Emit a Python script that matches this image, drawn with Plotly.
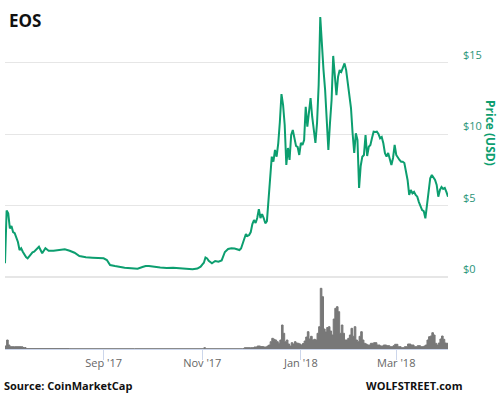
import pandas as pd
import plotly.graph_objects as go

# ---- data ----
start_date = "2017-07-02"
end_date = "2018-04-02"

price_day = [0, 1, 2, 3, 4, 5, 6, 7, 8, 9, 10, 11, 12, 13, 14, 15, 16, 17, 18, 20, 21, 22, 23, 25, 27,
             30, 34, 37, 40, 43, 46, 50, 54, 58, 61, 63, 64, 65, 68, 71, 74, 78, 82, 85, 87, 89, 92,
             96, 100, 104, 108, 112, 116, 119, 121, 122, 123, 124, 125, 126, 127, 128, 130, 132, 134,
             135, 136, 138, 140, 142, 144, 145, 146, 147, 148, 149, 150, 151, 152, 153, 154, 155, 156,
             157, 158, 159, 160, 161, 162, 163, 164, 165, 166, 167, 168, 169, 170, 171, 172, 173, 174,
             175, 176, 177, 178, 179, 180, 181, 182, 183, 184, 185, 186, 187, 188, 189, 190, 191, 192,
             193, 194, 195, 196, 197, 198, 199, 200, 201, 202, 203, 204, 205, 206, 207, 208, 209, 210,
             211, 212, 213, 214, 215, 216, 217, 218, 219, 220, 221, 222, 223, 224, 225, 226, 227, 228,
             229, 230, 231, 232, 233, 234, 235, 236, 237, 238, 239, 240, 241, 242, 243, 244, 245, 246,
             247, 248, 249, 250, 251, 252, 253, 254, 255, 256, 257, 258, 259, 260, 261, 262, 263, 264,
             265, 266, 267, 268, 269, 270, 271, 272, 273, 274]
price_usd = [0.94, 4.63, 4.44, 3.39, 3.55, 3.13, 3.05, 2.69, 2.43, 1.87, 1.99, 1.75, 1.52, 1.38, 1.29,
             1.45, 1.59, 1.70, 1.75, 1.98, 2.10, 1.87, 1.64, 1.99, 1.82,
             1.82, 1.87, 1.92, 1.82, 1.68, 1.45, 1.36, 1.33, 1.29, 1.29, 1.17, 0.94, 0.82, 0.75, 0.68,
             0.63, 0.59, 0.56, 0.68, 0.75, 0.75, 0.68,
             0.64, 0.61, 0.63, 0.59, 0.55, 0.52, 0.57, 0.70, 0.85, 0.98, 1.35, 1.28, 1.12, 1.03, 0.94,
             1.10, 1.05, 1.14,
             1.52, 1.73, 1.94, 1.99, 1.98, 1.94, 1.87, 1.98, 2.36, 2.57, 2.99, 2.85, 2.92, 3.13, 3.69,
             3.97, 3.76, 4.11,
             4.74, 4.11, 4.39, 4.11, 3.74, 3.90, 5.45, 7.06, 8.41, 8.06, 8.88, 8.41, 9.35, 10.84, 12.80,
             12.03, 10.63, 7.83,
             9.02, 8.18, 9.93, 10.28, 9.72, 9.16, 9.09, 8.53, 9.37, 9.23, 9.58, 11.91, 10.51, 11.45,
             12.52, 11.21, 10.05, 9.37,
             10.77, 13.43, 18.20, 15.89, 14.48, 13.08, 10.51, 8.88, 10.75, 12.38, 15.47, 14.13, 12.73,
             14.02, 14.48, 14.35, 14.63, 14.95,
             14.48, 13.43, 12.38, 11.82, 10.05, 8.67, 10.05, 9.58, 6.22, 7.76, 8.41, 8.53, 9.93, 8.46,
             9.11, 9.23, 9.72, 10.16,
             10.14, 10.16, 10.00, 9.70, 9.79, 9.35, 8.65, 8.41, 8.67, 8.18, 7.83, 8.32, 9.23, 8.53,
             8.32, 8.18, 8.06, 8.06,
             7.97, 7.48, 6.78, 5.73, 6.08, 5.84, 5.94, 5.73, 5.61, 5.23, 4.95, 4.67, 4.60, 4.09, 5.02,
             5.84, 6.90, 7.13,
             6.90, 6.78, 6.43, 5.61, 6.08, 6.29, 6.15, 6.22, 5.94, 5.61]

volume_day = [0, 1, 2, 3, 6, 10, 11, 12, 13, 40, 80, 120, 123, 124, 147, 148, 152, 154, 156, 158, 160,
              162, 163, 164, 165, 166, 167, 168, 169, 170, 171, 172, 173, 174, 175, 176, 177, 178, 179,
              180, 181, 182, 183, 184, 185, 186, 187, 188, 189, 190, 191, 192, 193, 194, 195, 196, 197,
              198, 199, 200, 201, 202, 203, 204, 205, 206, 207, 208, 209, 210, 211, 212, 213, 214, 215,
              216, 217, 218, 219, 220, 221, 222, 223, 224, 226, 228, 230, 232, 234, 236, 238, 240, 241,
              243, 245, 247, 249, 251, 253, 255, 257, 259, 260, 261, 262, 263, 264, 265, 266, 267, 268,
              269, 270, 271, 272, 273, 274]
volume_musd = [150, 450, 200, 115, 115, 115, 75, 75, 20, 15, 15, 15, 65, 15, 20, 65, 65, 100, 150, 120,
               100, 150, 200, 365, 535, 485, 450, 365, 285, 450, 1200, 785, 365, 450, 250, 150, 315,
               250, 365, 300, 285, 250, 200, 275, 400, 600, 865, 500, 635, 450, 485, 450, 785, 1115,
               3035, 2615, 1000, 850, 1075, 1115, 900, 700, 1500, 2035, 2115, 1865, 785, 1200, 785,
               450, 450, 535, 700, 1035, 635, 1115, 450, 365, 635, 865, 450, 285, 250, 200, 285, 315,
               200, 150, 200, 165, 115, 165, 235, 115, 65, 115, 250, 200, 115, 165, 115, 150, 200, 450,
               615, 650, 815, 700, 285, 200, 300, 500, 650, 485, 300, 285, 200]

price_ticks = [0, 5, 10, 15]
price_tick_labels = ["$0", "$5", "$10", "$15"]
date_ticks = ["2017-09-01", "2017-11-01", "2018-01-01", "2018-03-01"]
date_tick_labels = ["Sep '17", "Nov '17", "Jan '18", "Mar '18"]

# ---- build ----
t0 = pd.Timestamp(start_date)
price_dates = t0 + pd.to_timedelta(price_day, unit="D")
volume_dates = t0 + pd.to_timedelta(volume_day, unit="D")

W, H = 502, 398
ML, MR = 5, 54
PW = W - ML - MR
GREEN = "#0c9e6f"
FONT = "Open Sans"

fig = go.Figure()
fig.add_trace(go.Scatter(
    x=volume_dates, y=volume_musd, xaxis="x", yaxis="y2",
    mode="lines", line=dict(color="#787878", width=1, shape="hv"),
    fill="tozeroy", fillcolor="#787878", hoverinfo="skip",
))
fig.add_trace(go.Scatter(
    x=price_dates, y=price_usd, xaxis="x", yaxis="y",
    mode="lines", line=dict(color=GREEN, width=2), hoverinfo="skip",
))


def py(px):
    return 1 - px / H


def pxx(px):
    return (px - ML) / PW


fig.update_layout(
    width=W, height=H,
    margin=dict(l=ML, r=MR, t=0, b=0),
    paper_bgcolor="white", plot_bgcolor="white",
    showlegend=False,
    font=dict(family=FONT, size=11, color="#666666"),
    xaxis=dict(
        type="date", range=[start_date, end_date], anchor="y2",
        tickvals=date_ticks, ticktext=date_tick_labels,
        ticks="outside", ticklen=10, tickcolor="#ccd6eb", tickwidth=1,
        ticklabelstandoff=-6,
        showline=True, linecolor="#ccd6eb", linewidth=1,
        showgrid=False, zeroline=False,
        tickfont=dict(family=FONT, size=11, color="#666666"),
    ),
    yaxis=dict(
        domain=[py(276.7), py(14)], range=[0, 18.41], side="right",
        tickvals=price_ticks, ticktext=price_tick_labels,
        showgrid=True, gridcolor="#e6e6e6", gridwidth=1,
        zeroline=True, zerolinecolor="#e6e6e6", zerolinewidth=2,
        showline=False, ticks="", ticklabelposition="outside top",
        ticklabelstandoff=14,
        tickfont=dict(family=FONT, size=11, color="#2a9478"),
    ),
    yaxis2=dict(
        domain=[py(349), py(286)], range=[0, 3150], side="right",
        showgrid=False, zeroline=False, showticklabels=False, showline=False, ticks="",
    ),
    annotations=[
        dict(text="<b>EOS</b>", xref="paper", yref="paper", x=pxx(7), y=py(7),
             xanchor="left", yanchor="top", showarrow=False,
             font=dict(family=FONT, size=17, color="#111111")),
        dict(text="<b>Price (USD)</b>", xref="paper", yref="paper", x=pxx(491),
             y=py(133), xanchor="center", yanchor="middle", textangle=90, showarrow=False,
             font=dict(family=FONT, size=12, color=GREEN)),
        dict(text="<b>Source: CoinMarketCap</b>", xref="paper", yref="paper", x=pxx(2),
             y=py(385), xanchor="left", yanchor="middle", showarrow=False,
             font=dict(family=FONT, size=11, color="#111111")),
        dict(text="<b>WOLFSTREET.com</b>", xref="paper", yref="paper", x=pxx(364),
             y=py(385), xanchor="left", yanchor="middle", showarrow=False,
             font=dict(family=FONT, size=11, color="#111111")),
    ],
)

fig.write_html("out.html", config={"displayModeBar": False},
               post_script="document.body.style.margin='0px';")
